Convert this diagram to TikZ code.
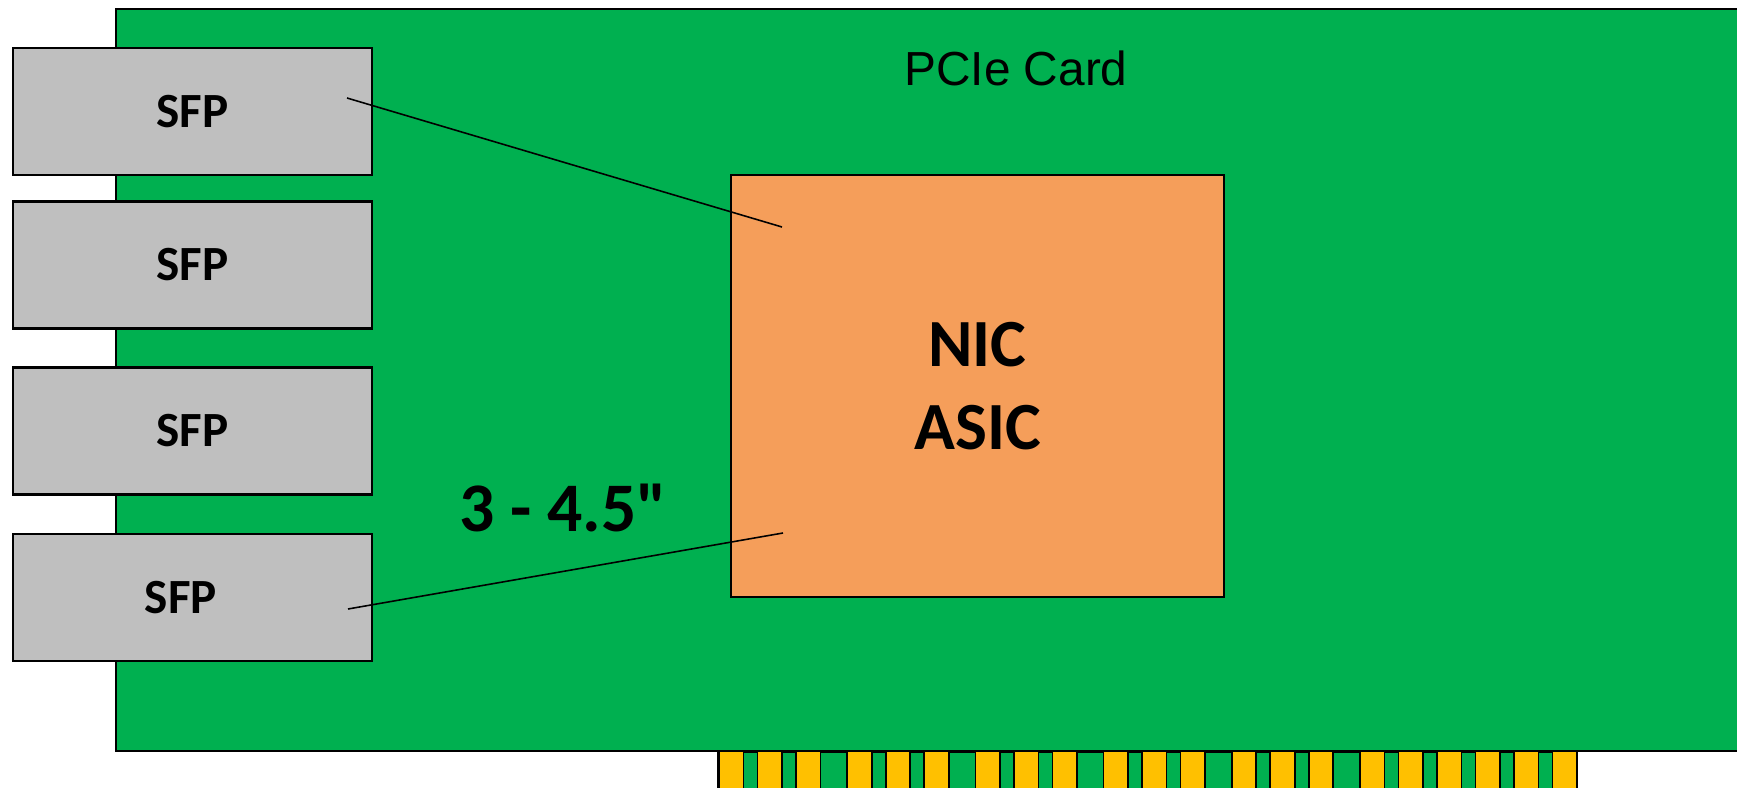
\documentclass[tikz,border=0pt]{standalone}
\usepackage{fontspec}
\setmainfont{Carlito}[Ligatures=TeXOff]
\newfontfamily\arialfont{Liberation Sans}
\definecolor{pcbgreen}{HTML}{00B050}
\definecolor{sfpgray}{HTML}{BFBFBF}
\definecolor{asicorange}{HTML}{F59E5A}
\definecolor{fingergold}{HTML}{FFC000}
\begin{document}
\begin{tikzpicture}[line width=0.6pt,
  sfp/.style={draw, fill=sfpgray, minimum width=3.59cm, minimum height=1.27cm, inner sep=0pt},
  sfptext/.style={font=\fontsize{14}{16}\selectfont\bfseries},
  asic/.style={draw, fill=asicorange, minimum width=4.93cm, minimum height=4.22cm, inner sep=0pt, align=center,
    font=\fontsize{19.2}{23.5}\selectfont\bfseries},
  finger/.style={draw, fill=fingergold, line width=0.5pt}]
 \clip (0,0) rectangle (17.37,-7.88);
 % card
 \draw[fill=pcbgreen] (1.16,-0.09) rectangle (17.7,-7.51);
 \node[font=\arialfont\fontsize{13.6}{16}\selectfont] (card) at (10.16,-0.68) {PCIe Card};
 % ports
 \node[sfp, sfptext] (sfp1) at (1.925,-1.115) {SFP};
 \node[sfp, sfptext] (sfp2) at (1.925,-2.65) {SFP};
 \node[sfp, sfptext] (sfp3) at (1.925,-4.31) {SFP};
 \node[sfp] (sfp4) at (1.925,-5.975) {};
 \node[sfptext] (sfp4 text) at (1.81,-5.975) {SFP};
 \node[asic] (asic) at (9.775,-3.86) {NIC\\ASIC};
 % traces
 \coordinate (top a) at (3.47,-0.98);
 \coordinate (top b) at (7.82,-2.27);
 \coordinate (bot a) at (3.48,-6.09);
 \coordinate (bot b) at (7.83,-5.33);
 \draw[line width=0.45pt] (top a) -- (top b);
 \draw[line width=0.45pt] (bot a) -- (bot b);
 \node[font=\fontsize{19.8}{24}\selectfont\bfseries] (length) at (5.63,-5.08) {3 - 4.5"};
 % edge connector
 \draw[fill=pcbgreen] (7.18,-7.515) rectangle (15.77,-8.1);
 \foreach \g in {0,...,5} {
   \pgfmathtruncatemacro{\n}{\g==5 ? 5 : 2}
   \foreach \i in {0,...,\n}
     \draw[finger] ({7.19+1.282*\g+0.385*\i},-7.515) rectangle +(0.245,-0.6);
 }
\end{tikzpicture}
\end{document}
